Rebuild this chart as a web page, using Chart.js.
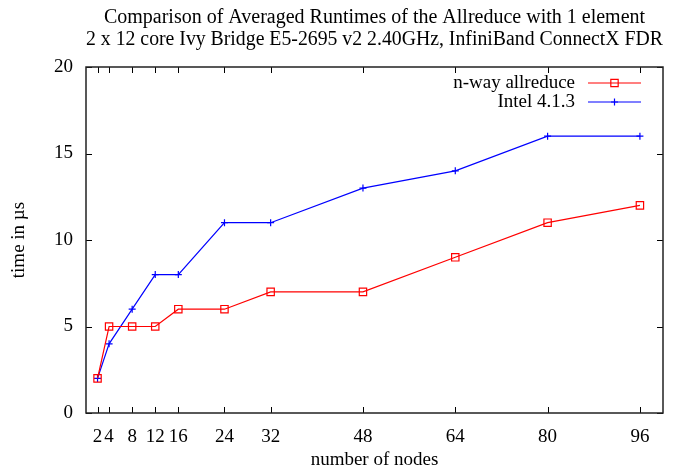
<!DOCTYPE html>
<html>
<head>
<meta charset="utf-8">
<title>Allreduce runtimes</title>
<script src="https://cdn.jsdelivr.net/npm/chart.js@4.4.0/dist/chart.umd.min.js"></script>
<style>
  html, body { margin: 0; padding: 0; background: #fff; }
</style>
</head>
<body>
<canvas id="myChart" width="681" height="471"></canvas>
<script>
// number of nodes and averaged runtimes (µs)
const nodes = [2, 4, 8, 12, 16, 24, 32, 48, 64, 80, 96];
const nwayAllreduce = [2, 5, 5, 5, 6, 6, 7, 7, 9, 11, 12];
const intel413 = [2, 4, 6, 8, 8, 11, 11, 13, 14, 16, 16];
const xTicks = [2, 4, 8, 12, 16, 24, 32, 48, 64, 80, 96];
const yTicks = [0, 5, 10, 15, 20];

const serif = "'Liberation Serif', 'Times New Roman', serif";
Chart.defaults.font.family = serif;
Chart.defaults.font.size = 19;
Chart.defaults.color = '#000';

// frame around the plot with inward ticks on all four sides
const marco = {
  id: 'marco',
  beforeDatasetsDraw(chart) {
    const {ctx, chartArea: a, scales} = chart;
    ctx.save();
    ctx.strokeStyle = '#000';
    ctx.lineWidth = 1;
    ctx.beginPath();
    xTicks.forEach(v => {
      const x = Math.round(scales.x.getPixelForValue(v)) + 0.5;
      ctx.moveTo(x, a.bottom); ctx.lineTo(x, a.bottom - 6);
      ctx.moveTo(x, a.top); ctx.lineTo(x, a.top + 6);
    });
    yTicks.forEach(v => {
      const y = Math.round(scales.y.getPixelForValue(v)) + 0.5;
      ctx.moveTo(a.left, y); ctx.lineTo(a.left + 6, y);
      ctx.moveTo(a.right, y); ctx.lineTo(a.right - 6, y);
    });
    ctx.stroke();
    ctx.lineWidth = 1.5;
    ctx.strokeStyle = '#222';
    ctx.strokeRect(a.left, a.top, a.right - a.left, a.bottom - a.top);
    ctx.restore();
  }
};

// key in the upper right corner: label, then line sample with marker
const leyenda = {
  id: 'leyenda',
  afterDraw(chart) {
    const {ctx, chartArea: a} = chart;
    const textRight = a.right - 88;
    const x0 = a.right - 75, x1 = a.right - 22, xm = (x0 + x1) / 2;
    ctx.save();
    ctx.font = '19px ' + serif;
    ctx.textAlign = 'right';
    ctx.textBaseline = 'middle';
    chart.data.datasets.forEach((ds, i) => {
      const y = a.top + 16 + i * 19;
      ctx.fillStyle = '#000';
      ctx.fillText(ds.label, textRight, y);
      ctx.strokeStyle = ds.borderColor;
      ctx.lineWidth = ds.borderWidth;
      ctx.beginPath();
      ctx.moveTo(x0, y); ctx.lineTo(x1, y);
      ctx.stroke();
      ctx.beginPath();
      if (ds.pointStyle === 'rect') {
        const s = ds.pointRadius * Math.SQRT1_2;
        ctx.rect(xm - s, y - s, 2 * s, 2 * s);
      } else {
        const r = ds.pointRadius;
        ctx.moveTo(xm - r, y); ctx.lineTo(xm + r, y);
        ctx.moveTo(xm, y - r); ctx.lineTo(xm, y + r);
      }
      ctx.lineWidth = ds.pointBorderWidth;
      ctx.stroke();
    });
    ctx.restore();
  }
};

const data = {
  labels: nodes,
  datasets: [{
    label: 'n-way allreduce',
    data: nodes.map((n, i) => ({x: n, y: nwayAllreduce[i]})),
    borderColor: '#ff0000',
    backgroundColor: 'rgba(0,0,0,0)',
    borderWidth: 1.2,
    pointStyle: 'rect',
    pointRadius: 5.2,
    pointBorderWidth: 1.2,
    pointBorderColor: '#ff0000',
    pointBackgroundColor: 'rgba(0,0,0,0)',
    tension: 0
  }, {
    label: 'Intel 4.1.3',
    data: nodes.map((n, i) => ({x: n, y: intel413[i]})),
    borderColor: '#0000ff',
    backgroundColor: 'rgba(0,0,0,0)',
    borderWidth: 1.2,
    pointStyle: 'cross',
    pointRadius: 3.5,
    pointBorderWidth: 1.2,
    pointBorderColor: '#0000ff',
    pointBackgroundColor: 'rgba(0,0,0,0)',
    tension: 0
  }]
};

new Chart(document.getElementById('myChart'), {
  type: 'line',
  data: data,
  plugins: [marco, leyenda],
  options: {
    responsive: false,
    animation: false,
    layout: { padding: { top: 0, right: 18, bottom: 0, left: 0 } },
    plugins: {
      legend: { display: false },
      tooltip: { enabled: false },
      title: {
        display: true,
        fullSize: false,
        text: ['Comparison of Averaged Runtimes of the Allreduce with 1 element',
               '2 x 12 core Ivy Bridge E5-2695 v2 2.40GHz, InfiniBand ConnectX FDR'],
        color: '#000',
        font: { size: 20, weight: 'normal', lineHeight: 22 / 20 },
        padding: { top: 7, bottom: 16 }
      }
    },
    scales: {
      x: {
        type: 'linear',
        min: 0,
        max: 100,
        afterBuildTicks: s => { s.ticks = xTicks.map(v => ({value: v})); },
        afterFit: s => { s.height = 58; },
        grid: { display: false, drawTicks: false },
        border: { display: false },
        ticks: { autoSkip: false, maxRotation: 0, padding: 13, color: '#000' },
        title: { display: true, text: 'number of nodes', color: '#000', padding: { top: 0, bottom: 0 } }
      },
      y: {
        min: 0,
        max: 20,
        afterBuildTicks: s => { s.ticks = yTicks.map(v => ({value: v})); },
        afterFit: s => { s.width = 86; },
        grid: { display: false, drawTicks: false },
        border: { display: false },
        ticks: { padding: 13, color: '#000' },
        title: { display: true, text: 'time in µs', color: '#000', padding: { top: 8, bottom: 0 } }
      }
    }
  }
});
</script>
</body>
</html>
